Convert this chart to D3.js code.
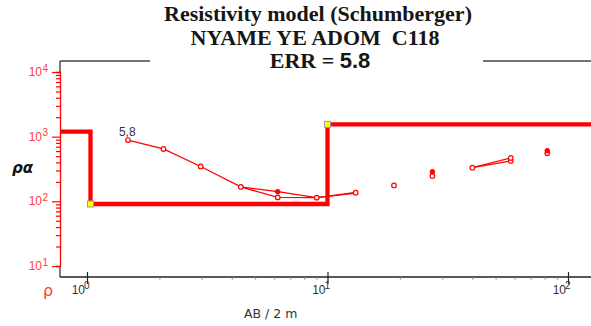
<!DOCTYPE html>
<html><head><meta charset="utf-8">
<script src="https://cdn.jsdelivr.net/npm/d3@7"></script>
<style>body{margin:0;background:#fff;} svg{display:block;}</style>
</head><body>
<svg id="c" width="591" height="326"></svg>
<script>
// ---- data ----
const titleLines = ["Resistivity model (Schumberger)", "NYAME YE ADOM\u00a0 C118", "ERR = "];
const errValue = "5.8";
const curveLabel = "5,8";
// model: layer resistivities and boundary depths (AB/2)
const layerRho = [1200, 91, 1550];
const layerDepth = [1.034, 10.0];
// observed apparent resistivity (open circles)
const obsAB2 = [1.48, 2.08, 2.97, 4.36, 6.21, 9.02, 13.1, 18.9, 27.3, 40, 57.8, 57.8, 82];
const obsRho = [887, 645, 346, 167, 115, 114, 136, 176, 247, 331, 421, 468, 553];
// filled points
const fillAB2 = [6.21, 27.3, 82];
const fillRho = [141, 287, 607];
// connecting segments
const seg1AB2 = [1.48, 2.08, 2.97, 4.36, 6.21, 9.02, 13.1];
const seg1Rho = [887, 645, 346, 167, 141, 114, 137];
const seg2AB2 = [4.36, 6.21, 9.02, 13.1];
const seg2Rho = [167, 115, 114, 134];
const seg3AB2 = [40, 57.8];
const seg3Rho = [331, 421];
const seg4AB2 = [40, 57.8];
const seg4Rho = [331, 468];
const xMajor = [1, 10, 100];
const xMajorExp = ["0", "1", "2"];
const yMajor = [10, 100, 1000, 10000];
const yMajorExp = ["1", "2", "3", "4"];
const xLabel = "AB / 2 m";
const yLabel = "ρα";
const yLabel2 = "ρ";

// ---- layout ----
const svg = d3.select("#c");
const axX = 60, axY = 277, frameTop = 61, rightEdge = 591;
const x = d3.scaleLog().domain([1, 100]).range([87, 568]);
const y = d3.scaleLog().domain([10, 10000]).range([266, 72]);
const RED = "#ff0000";

// title
const tg = svg.append("g").attr("font-family", "'Liberation Serif', 'Times New Roman', serif")
  .attr("font-weight", "bold").attr("font-size", 22).attr("fill", "#161616").attr("text-anchor", "middle");
tg.append("text").attr("x", 318).attr("y", 21).text(titleLines[0]);
tg.append("text").attr("x", 315).attr("y", 45).text(titleLines[1]);
const t3 = tg.append("text").attr("x", 320).attr("y", 68);
t3.append("tspan").text(titleLines[2]);
t3.append("tspan").attr("font-family", "'Liberation Sans', Arial, sans-serif").text(errValue);

// frame top lines
svg.append("line").attr("x1", axX).attr("x2", 150).attr("y1", frameTop).attr("y2", frameTop).attr("stroke", "#444").attr("stroke-width", 1.3);
svg.append("line").attr("x1", 483).attr("x2", rightEdge).attr("y1", frameTop).attr("y2", frameTop).attr("stroke", "#444").attr("stroke-width", 1.3);
// black segments of left frame
svg.append("line").attr("x1", axX).attr("x2", axX).attr("y1", frameTop).attr("y2", y(10000)).attr("stroke", "#333").attr("stroke-width", 1.3);
svg.append("line").attr("x1", axX).attr("x2", axX).attr("y1", y(10)).attr("y2", axY).attr("stroke", "#333").attr("stroke-width", 1.3);

// y axis (red)
const yTicks = [];
for (let e = 1; e < 4; e++) for (let m = 1; m < 10; m++) yTicks.push(m * Math.pow(10, e));
yTicks.push(10000);
const yAxis = svg.append("g").attr("transform", `translate(${axX},0)`)
  .call(d3.axisLeft(y).tickValues(yTicks).tickFormat("").tickSizeOuter(0).tickSize(4));
yAxis.select(".domain").attr("stroke", RED).attr("stroke-width", 1.3);
yAxis.selectAll(".tick line").attr("stroke", RED).attr("stroke-width", 1.2)
  .attr("x2", d => yMajor.includes(d) ? -8 : -4);
yMajor.forEach((v, i) => {
  svg.append("text").attr("font-family", "'Liberation Sans', Arial, sans-serif")
    .attr("fill", "#ff3b3b").attr("font-size", 12).attr("text-anchor", "end")
    .attr("x", 42).attr("y", y(v) + 4).text("10");
  svg.append("text").attr("font-family", "'Liberation Sans', Arial, sans-serif")
    .attr("fill", "#ff3b3b").attr("font-size", 10).attr("x", 42.5).attr("y", y(v) - 0.5).text(yMajorExp[i]);
});

// x axis (black)
const xTicks = [];
for (let e = 0; e < 2; e++) for (let m = 1; m < 10; m++) xTicks.push(m * Math.pow(10, e));
xTicks.push(100);
svg.append("line").attr("x1", axX).attr("x2", rightEdge).attr("y1", axY).attr("y2", axY).attr("stroke", "#222").attr("stroke-width", 1.3);
const xAxis = svg.append("g").attr("transform", `translate(0,${axY})`)
  .call(d3.axisBottom(x).tickValues(xTicks).tickFormat("").tickSizeOuter(0).tickSize(3));
xAxis.select(".domain").remove();
xAxis.selectAll(".tick line").attr("stroke", d => xMajor.includes(d) ? "#222" : "#888").attr("stroke-width", 1.2)
  .attr("y1", d => xMajor.includes(d) ? -5 : 0)
  .attr("y2", d => xMajor.includes(d) ? 7 : 2.5);
xMajor.forEach((v, i) => {
  svg.append("text").attr("font-family", "'Liberation Sans', Arial, sans-serif")
    .attr("fill", "#333").attr("font-size", 12).attr("text-anchor", "end")
    .attr("x", x(v) - 2).attr("y", 294).text("10");
  svg.append("text").attr("font-family", "'Liberation Sans', Arial, sans-serif")
    .attr("fill", "#333").attr("font-size", 10).attr("x", x(v) - 3).attr("y", 289).text(xMajorExp[i]);
});

// axis labels
svg.append("text").attr("font-family", "'DejaVu Sans', sans-serif").attr("font-size", 12.5)
  .attr("fill", "#333").attr("x", 244).attr("y", 318).text(xLabel);
svg.append("text").attr("font-family", "'DejaVu Sans', sans-serif").attr("font-weight", "bold").attr("font-style", "italic")
  .attr("font-size", 15).attr("fill", "#111").attr("x", 12).attr("y", 173).text(yLabel);
svg.append("text").attr("font-family", "'DejaVu Sans', sans-serif")
  .attr("font-size", 16).attr("fill", "#ff3b3b").attr("x", 43).attr("y", 296).text(yLabel2);

// model step line
const xLeft = x.invert(axX), xRight = x.invert(rightEdge);
const modelPts = [[xLeft, layerRho[0]]];
layerDepth.forEach((d, i) => { modelPts.push([d, layerRho[i]]); modelPts.push([d, layerRho[i + 1]]); });
modelPts.push([xRight, layerRho[layerRho.length - 1]]);
const line = d3.line().x(d => x(d[0])).y(d => y(d[1]));
svg.append("path").attr("d", line(modelPts)).attr("fill", "none").attr("stroke", RED)
  .attr("stroke-width", 4.3).attr("stroke-linejoin", "miter");

// thin curve segments
const segs = [[seg1AB2, seg1Rho], [seg2AB2, seg2Rho], [seg3AB2, seg3Rho], [seg4AB2, seg4Rho]];
segs.forEach(([a, r]) => {
  svg.append("path").attr("d", line(a.map((v, i) => [v, r[i]]))).attr("fill", "none")
    .attr("stroke", RED).attr("stroke-width", 1.3);
});

// markers
svg.selectAll("circle.obs").data(obsAB2.map((v, i) => [v, obsRho[i]])).enter().append("circle")
  .attr("cx", d => x(d[0])).attr("cy", d => y(d[1])).attr("r", 2.3)
  .attr("fill", "#fff").attr("stroke", RED).attr("stroke-width", 1.2);
svg.selectAll("circle.fill").data(fillAB2.map((v, i) => [v, fillRho[i]])).enter().append("circle")
  .attr("cx", d => x(d[0])).attr("cy", d => y(d[1])).attr("r", 2.3)
  .attr("fill", RED).attr("stroke", RED).attr("stroke-width", 1);

// layer corner squares
layerDepth.forEach((d, i) => {
  svg.append("rect").attr("x", x(d) - 3).attr("y", y(layerRho[i + 1]) - 3).attr("width", 6).attr("height", 6)
    .attr("fill", "#ffff00").attr("stroke", "#999").attr("stroke-width", 1);
});

// curve label
svg.append("text").attr("font-family", "'Liberation Sans', Arial, sans-serif").attr("font-size", 12)
  .attr("fill", "#334").attr("x", x(obsAB2[0]) - 9).attr("y", y(obsRho[0]) - 4).text(curveLabel);
</script>
</body></html>
